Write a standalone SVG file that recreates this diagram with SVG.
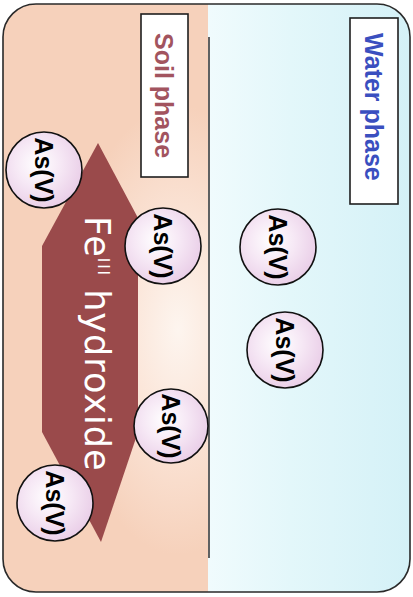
<svg xmlns="http://www.w3.org/2000/svg" width="413" height="597" viewBox="0 0 413 597">
  <defs>
    <radialGradient id="soilGrad" gradientUnits="userSpaceOnUse" cx="178" cy="330" r="150" gradientTransform="translate(178 330) scale(0.75 1.5) translate(-178 -330)">
      <stop offset="0" stop-color="#fdf5ef"/>
      <stop offset="0.45" stop-color="#fbe5d8"/>
      <stop offset="1" stop-color="#f6d1bb"/>
    </radialGradient>
    <linearGradient id="waterGrad" gradientUnits="userSpaceOnUse" x1="209" y1="0" x2="412" y2="0">
      <stop offset="0" stop-color="#f0fbfd"/>
      <stop offset="0.4" stop-color="#e3f7fa"/>
      <stop offset="1" stop-color="#d4f1f7"/>
    </linearGradient>
    <radialGradient id="asGrad" cx="0.42" cy="0.42" r="0.6">
      <stop offset="0" stop-color="#ffffff"/>
      <stop offset="0.5" stop-color="#f6e8f5"/>
      <stop offset="1" stop-color="#eacfe8"/>
    </radialGradient>
    <clipPath id="frameClip">
      <rect x="3" y="4" width="407" height="588" rx="33" ry="33"/>
    </clipPath>
  </defs>
  <style>
    .frame { fill: none; stroke: #2a2a2a; stroke-width: 1.6; }
    .label-box { fill: #ffffff; stroke: #1e1e1e; stroke-width: 1.6; }
    .soil-text { font-family: "Liberation Sans", Arial, sans-serif; font-weight: bold; font-size: 25px; fill: #a2545f; }
    .water-text { font-family: "Liberation Sans", Arial, sans-serif; font-weight: bold; font-size: 25px; fill: #3a4fbf; }
    .as-circle { fill: url(#asGrad); stroke: #111111; stroke-width: 1.6; }
    .as-text { font-family: "Liberation Sans", Arial, sans-serif; font-weight: bold; font-size: 25px; fill: #000000; text-anchor: middle; }
    .fe-shape { fill: #9a4a4b; }
    .fe-text { font-family: "DejaVu Sans", Verdana, sans-serif; font-size: 35px; letter-spacing: 1px; fill: #ffffff; }
  </style>

  <g id="background" clip-path="url(#frameClip)">
    <rect x="0" y="0" width="413" height="597" fill="url(#waterGrad)"/>
    <rect x="0" y="0" width="208" height="597" fill="url(#soilGrad)"/>
  </g>

  <g id="soil-phase">
    <line x1="209" y1="37" x2="209" y2="558" stroke="#3a3a3a" stroke-width="1.6"/>
    <rect class="label-box" x="141" y="14" width="47" height="163"/>
    <text class="soil-text" transform="translate(155 33) rotate(90)">Soil phase</text>
  </g>

  <g id="water-phase">
    <rect class="label-box" x="350" y="18" width="48" height="186"/>
    <text class="water-text" transform="translate(365 33) rotate(90)">Water phase</text>
  </g>

  <g id="fe-hydroxide">
    <polygon class="fe-shape" points="98,143 138,218 138,432 101,542 42,432 42,246"/>
    <text class="fe-text" transform="translate(85 216) rotate(90)">Fe<tspan font-size="15" dy="-13" letter-spacing="2">III</tspan><tspan dy="13"> hydroxide</tspan></text>
  </g>

  <g id="as-v-1">
    <circle class="as-circle" cx="44" cy="170" r="38"/>
    <text class="as-text" transform="translate(35 170) rotate(90)">As(V)</text>
  </g>
  <g id="as-v-2">
    <circle class="as-circle" cx="163" cy="246" r="38"/>
    <text class="as-text" transform="translate(154 246) rotate(90)">As(V)</text>
  </g>
  <g id="as-v-3">
    <circle class="as-circle" cx="278" cy="247" r="38"/>
    <text class="as-text" transform="translate(269 247) rotate(90)">As(V)</text>
  </g>
  <g id="as-v-4">
    <circle class="as-circle" cx="285" cy="350" r="38"/>
    <text class="as-text" transform="translate(276 350) rotate(90)">As(V)</text>
  </g>
  <g id="as-v-5">
    <circle class="as-circle" cx="171" cy="426" r="37"/>
    <text class="as-text" transform="translate(162 426) rotate(90)">As(V)</text>
  </g>
  <g id="as-v-6">
    <circle class="as-circle" cx="55" cy="503" r="38"/>
    <text class="as-text" transform="translate(46 503) rotate(90)">As(V)</text>
  </g>

  <g id="connectors"/>

  <rect class="frame" x="3" y="4" width="407" height="588" rx="33" ry="33"/>
</svg>
